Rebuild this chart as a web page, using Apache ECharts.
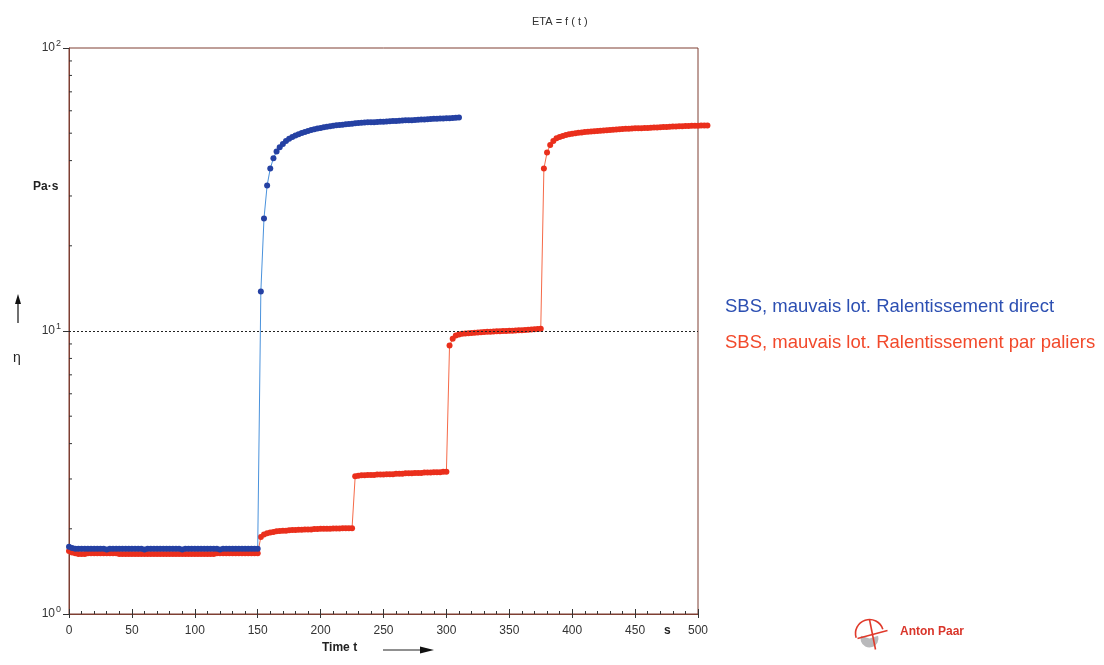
<!DOCTYPE html>
<html><head><meta charset="utf-8">
<script src="https://cdn.jsdelivr.net/npm/echarts@6/dist/echarts.min.js"></script>
<style>html,body{margin:0;padding:0;background:#fff}#c{width:1104px;height:665px}</style>
</head><body><div id="c"></div>
<script>
// ---- data ----
// sampling times, s
const timeS = [
0,2.5,5,7.5,10,12.5,15,17.5,20,22.5,25,27.5,30,32.5,35,37.5,40,42.5,45,47.5,
50,52.5,55,57.5,60,62.5,65,67.5,70,72.5,75,77.5,80,82.5,85,87.5,90,92.5,95,97.5,
100,102.5,105,107.5,110,112.5,115,117.5,120,122.5,125,127.5,130,132.5,135,137.5,140,142.5,145,147.5,
150,152.5,155,157.5,160,162.5,165,167.5,170,172.5,175,177.5,180,182.5,185,187.5,190,192.5,195,197.5,
200,202.5,205,207.5,210,212.5,215,217.5,220,222.5,225,227.5,230,232.5,235,237.5,240,242.5,245,247.5,
250,252.5,255,257.5,260,262.5,265,267.5,270,272.5,275,277.5,280,282.5,285,287.5,290,292.5,295,297.5,
300,302.5,305,307.5,310,312.5,315,317.5,320,322.5,325,327.5,330,332.5,335,337.5,340,342.5,345,347.5,
350,352.5,355,357.5,360,362.5,365,367.5,370,372.5,375,377.5,380,382.5,385,387.5,390,392.5,395,397.5,
400,402.5,405,407.5,410,412.5,415,417.5,420,422.5,425,427.5,430,432.5,435,437.5,440,442.5,445,447.5,
450,452.5,455,457.5,460,462.5,465,467.5,470,472.5,475,477.5,480,482.5,485,487.5,490,492.5,495,497.5,
500,502.5,505,507.5
];
// ETA, Pa·s — direct slowdown (blue)
const blueEta = [
1.73,1.71,1.70,1.70,1.70,1.70,1.70,1.70,1.70,1.70,
1.70,1.70,1.69,1.70,1.70,1.70,1.70,1.70,1.70,1.70,
1.70,1.70,1.70,1.70,1.69,1.70,1.70,1.70,1.70,1.70,
1.70,1.70,1.70,1.70,1.70,1.70,1.69,1.70,1.70,1.70,
1.70,1.70,1.70,1.70,1.70,1.70,1.70,1.70,1.69,1.70,
1.70,1.70,1.70,1.70,1.70,1.70,1.70,1.70,1.70,1.70,
1.70,
13.8,25.0,32.7,37.5,40.8,
43.1,44.6,45.8,46.9,47.8,48.5,49.1,49.6,50.1,50.5,
50.9,51.3,51.6,51.9,52.2,52.5,52.7,52.9,53.1,53.3,
53.5,53.6,53.8,53.9,54.0,54.2,54.3,54.4,54.5,54.6,
54.6,54.7,54.8,54.9,54.9,55.0,55.1,55.2,55.2,55.3,
55.4,55.5,55.5,55.6,55.7,55.8,55.9,55.9,56.0,56.1,
56.2,56.2,56.3,56.4,56.5,56.5,56.6,56.7,56.8
];
// ETA, Pa·s — stepwise slowdown (red)
const redEta = [
1.67,1.65,1.64,1.63,1.63,1.63,1.64,1.64,1.64,1.64,
1.64,1.64,1.64,1.64,1.64,1.64,1.63,1.63,1.63,1.63,
1.63,1.63,1.63,1.63,1.63,1.63,1.63,1.63,1.63,1.63,
1.63,1.63,1.63,1.63,1.63,1.63,1.63,1.63,1.63,1.63,
1.63,1.63,1.63,1.63,1.63,1.63,1.63,1.64,1.64,1.64,
1.64,1.64,1.64,1.64,1.64,1.64,1.64,1.64,1.64,1.64,
1.64,
1.87,1.91,1.93,1.94,1.95,1.96,1.965,1.97,1.97,1.975,
1.98,1.98,1.985,1.985,1.99,1.99,1.99,1.995,1.995,2.00,
2.00,2.00,2.00,2.005,2.005,2.005,2.01,2.01,2.01,2.01,
3.07,3.08,3.09,3.09,3.10,3.10,3.10,3.11,3.11,3.11,
3.12,3.12,3.12,3.13,3.13,3.13,3.14,3.14,3.14,3.15,
3.15,3.15,3.16,3.16,3.16,3.17,3.17,3.17,3.18,3.18,
8.89,9.39,9.64,9.72,9.77,9.80,9.82,9.84,9.86,9.88,
9.90,9.91,9.93,9.94,9.96,9.97,9.98,9.99,10.00,10.02,
10.03,10.04,10.06,10.07,10.09,10.10,10.12,10.14,10.16,10.18,
37.5,42.7,45.4,46.9,48.0,48.5,48.9,49.3,49.6,49.8,
50.0,50.2,50.3,50.5,50.6,50.7,50.8,50.9,51.0,51.1,
51.2,51.3,51.4,51.5,51.6,51.7,51.8,51.8,51.9,52.0,
52.0,52.1,52.2,52.2,52.3,52.4,52.4,52.5,52.6,52.6,
52.7,52.8,52.8,52.9,52.9,53.0,53.0,53.1,53.1,53.1,
53.2,53.2,53.2
];
const seriesNames = ['SBS, mauvais lot. Ralentissement direct', 'SBS, mauvais lot. Ralentissement par paliers'];
const yMinorTicks = [2,3,4,5,6,7,8,9,20,30,40,50,60,70,80,90];
const refLineEta = 10;
const titleText = 'ETA = f ( t )';

// ---- chart ----
const FONT = 'Liberation Sans, Arial, sans-serif';
const AX = '#7e3f32';
const chart = echarts.init(document.getElementById('c'), null, {renderer: 'canvas'});
const bluePairs = blueEta.map((v, i) => [timeS[i], v]);
const redPairs = redEta.map((v, i) => [timeS[i], v]);

chart.setOption({
  animation: false,
  backgroundColor: '#ffffff',
  title: {
    text: titleText, left: 527, top: 11,
    textStyle: {fontFamily: FONT, fontSize: 11, fontWeight: 'normal', color: '#333'}
  },
  grid: {left: 69, right: 406, top: 48, bottom: 51, show: true, borderColor: AX, borderWidth: 1},
  legend: {
    orient: 'vertical', left: 715, top: 292, itemGap: 17, itemWidth: 0, itemHeight: 0,
    icon: 'none', selectedMode: false,
    data: [
      {name: seriesNames[0], textStyle: {color: '#2c4fb2'}},
      {name: seriesNames[1], textStyle: {color: '#f2492b'}}
    ],
    textStyle: {fontFamily: FONT, fontSize: 18.5}
  },
  xAxis: [{
    type: 'value', min: 0, max: 500, interval: 50,
    axisLine: {show: true, lineStyle: {color: AX, width: 1}},
    axisTick: {show: true, inside: true, length: 5, lineStyle: {color: '#333'}},
    minorTick: {show: true, splitNumber: 5, length: 3, lineStyle: {color: '#333'}},
    splitLine: {show: false},
    axisLabel: {fontFamily: FONT, fontSize: 12, color: '#333', margin: 11}
  }, {
    type: 'value', min: 0, max: 500, interval: 50, position: 'bottom',
    axisLine: {show: false},
    axisTick: {show: true, inside: false, length: 4, lineStyle: {color: '#333'}},
    axisLabel: {show: false}, splitLine: {show: false}
  }],
  yAxis: {
    type: 'log', logBase: 10, min: 1, max: 100,
    axisLine: {show: true, lineStyle: {color: AX, width: 1}},
    axisTick: {show: true, inside: false, length: 6, lineStyle: {color: '#333'}},
    splitLine: {show: false},
    axisLabel: {
      margin: 8,
      formatter: v => '{b|10}{s|' + Math.round(Math.log10(v)) + '}',
      rich: {
        b: {fontFamily: FONT, fontSize: 12, color: '#333'},
        s: {fontFamily: FONT, fontSize: 9, color: '#333', padding: [0, 0, 9, 1]}
      }
    }
  },
  series: [{
    name: seriesNames[1], type: 'line', data: redPairs, clip: false,
    symbol: 'circle', symbolSize: 6, showSymbol: true,
    itemStyle: {color: '#ea2f1c'},
    lineStyle: {color: '#f66a48', width: 1},
    z: 3
  }, {
    name: seriesNames[0], type: 'line', data: bluePairs, clip: false,
    symbol: 'circle', symbolSize: 6, showSymbol: true,
    itemStyle: {color: '#2541a3'},
    lineStyle: {color: '#4a92dc', width: 1},
    z: 4,
    markLine: {
      silent: true, symbol: 'none', label: {show: false},
      lineStyle: {color: '#222', type: [2, 2], width: 1},
      data: [{yAxis: refLineEta}]
    }
  }, {
    type: 'custom', silent: true, clip: false, z: 5,
    data: yMinorTicks.map(v => [0, v]),
    renderItem: (params, api) => {
      const p = api.coord([0, api.value(1)]);
      return {type: 'line', shape: {x1: p[0], y1: p[1], x2: p[0] + 3, y2: p[1]},
              style: {stroke: '#333', lineWidth: 1}};
    }
  }],
  graphic: [
    {type: 'text', left: 33, top: 181, style: {text: 'Pa·s', font: 'bold 12px ' + FONT, fill: '#222'}},
    {type: 'text', left: 13, top: 351, style: {text: 'η', font: '14px ' + FONT, fill: '#222'}},
    {type: 'line', shape: {x1: 18, y1: 323, x2: 18, y2: 302}, style: {stroke: '#111', lineWidth: 1.2}},
    {type: 'polygon', shape: {points: [[18, 294], [15, 304], [21, 304]]}, style: {fill: '#111'}},
    {type: 'text', left: 664, top: 625, style: {text: 's', font: 'bold 12px ' + FONT, fill: '#222'}},
    {type: 'text', left: 322, top: 642, style: {text: 'Time t', font: 'bold 12px ' + FONT, fill: '#222'}},
    {type: 'line', shape: {x1: 383, y1: 650, x2: 422, y2: 650}, style: {stroke: '#222', lineWidth: 1.2}},
    {type: 'polygon', shape: {points: [[434, 650], [420, 646.5], [420, 653.5]]}, style: {fill: '#111'}},
    // Anton Paar logo
    {type: 'group', left: 853, top: 617, children: [
      {type: 'sector', shape: {cx: 20, cy: 22, r0: 0, r: 9, startAngle: -0.3, endAngle: Math.PI * 1.1}, style: {fill: '#b9b9bb'}},
      {type: 'arc', shape: {cx: 20, cy: 17, r: 14, startAngle: Math.PI * 0.9, endAngle: Math.PI * 1.9}, style: {stroke: '#e0392a', lineWidth: 1.6, fill: 'none'}},
      {type: 'line', shape: {x1: 8, y1: 22, x2: 38, y2: 14}, style: {stroke: '#e0392a', lineWidth: 1.6}},
      {type: 'line', shape: {x1: 20, y1: 3, x2: 26, y2: 33}, style: {stroke: '#e0392a', lineWidth: 1.6}}
    ]},
    {type: 'text', left: 900, top: 626, style: {text: 'Anton Paar', font: 'bold 12px ' + FONT, fill: '#d9352a'}}
  ]
});
</script>
</body></html>
